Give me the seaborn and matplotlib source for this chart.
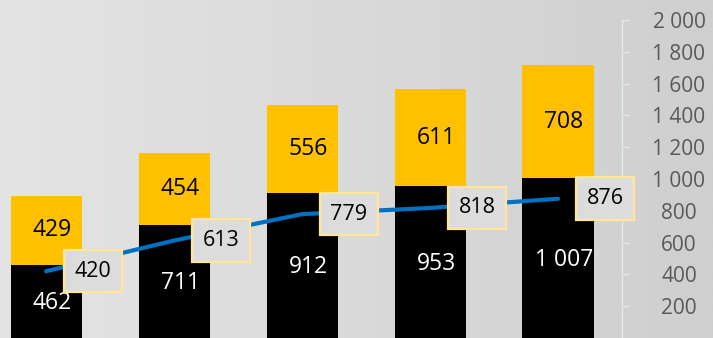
import numpy as np
import pandas as pd
import matplotlib
matplotlib.use("Agg")
import matplotlib.pyplot as plt
import seaborn as sns
from matplotlib.ticker import FuncFormatter

categories = ["P1", "P2", "P3", "P4", "P5"]
black_vals = [462, 711, 912, 953, 1007]
yellow_vals = [429, 454, 556, 611, 708]
line_vals = [420, 613, 779, 818, 876]
yticks = [200, 400, 600, 800, 1000, 1200, 1400, 1600, 1800, 2000]

sns.set_theme(style="white")
plt.rcParams['font.family'] = ['Open Sans', 'DejaVu Sans']

def fmt(v):
    return f"{int(v):,}".replace(",", " ")

df = pd.DataFrame({
    "cat": categories,
    "black": black_vals,
    "yellow": yellow_vals,
    "total": [b + y for b, y in zip(black_vals, yellow_vals)],
    "line": line_vals,
})

W, H = 713, 338
fig = plt.figure(figsize=(W / 100, H / 100), dpi=100)

# gradient background
bg = fig.add_axes([0, 0, 1, 1], zorder=-10)
grad = np.linspace(0, 1, 256)[None, :]
cmap = matplotlib.colors.LinearSegmentedColormap.from_list("g", ["#e4e4e4", "#cfcfcf"])
bg.imshow(grad, aspect="auto", cmap=cmap, extent=[0, 1, 0, 1])
bg.axis("off")

ax = fig.add_axes([0, 0, 622 / W, (H - 20) / H])
ax.patch.set_alpha(0)

sns.barplot(data=df, x="cat", y="total", color="#FFC000", width=0.555,
            saturation=1, ax=ax, zorder=2, linewidth=0, edgecolor="none")
sns.barplot(data=df, x="cat", y="black", color="#000000", width=0.555,
            saturation=1, ax=ax, zorder=3, linewidth=0, edgecolor="none")
sns.lineplot(x=np.arange(len(categories)), y=df["line"], color="#0070C0",
             linewidth=3, ax=ax, zorder=4)

for i in range(len(categories)):
    b, y, l = black_vals[i], yellow_vals[i], line_vals[i]
    ax.annotate(fmt(b), xy=(i, b / 2), xytext=(6, -2), textcoords="offset pixels",
                ha="center", va="center", color="white", fontsize=16.5, zorder=5)
    ax.annotate(fmt(y), xy=(i, b + y / 2), xytext=(6, 0), textcoords="offset pixels",
                ha="center", va="center", color="black", fontsize=16.5, zorder=5)
    ax.annotate(fmt(l), xy=(i, l), xytext=(47, 0), textcoords="offset pixels",
                ha="center", va="center", color="black", fontsize=15.5, zorder=6,
                bbox=dict(boxstyle="square,pad=0.5", fc="#dcdcdc", ec="#FFE699", lw=1.6))

ax.set_xlim(-0.36, 4.5)
ax.set_ylim(0, 2000)
ax.set_xlabel("")
ax.set_ylabel("")
ax.set_xticks([])
ax.yaxis.tick_right()
ax.set_yticks(yticks)
ax.yaxis.set_major_formatter(FuncFormatter(lambda v, p: fmt(v)))
ax.tick_params(axis="y", which="major", right=True, left=False, length=5, width=1,
               color="#e8e8e8", pad=36, labelsize=15, labelcolor="#595959")
for lab in ax.get_yticklabels():
    lab.set_ha("center")
for s in ["top", "left", "bottom"]:
    ax.spines[s].set_visible(False)
ax.spines["right"].set_color("#e8e8e8")
ax.spines["right"].set_linewidth(1)

fig.savefig("out.png", dpi=100)
